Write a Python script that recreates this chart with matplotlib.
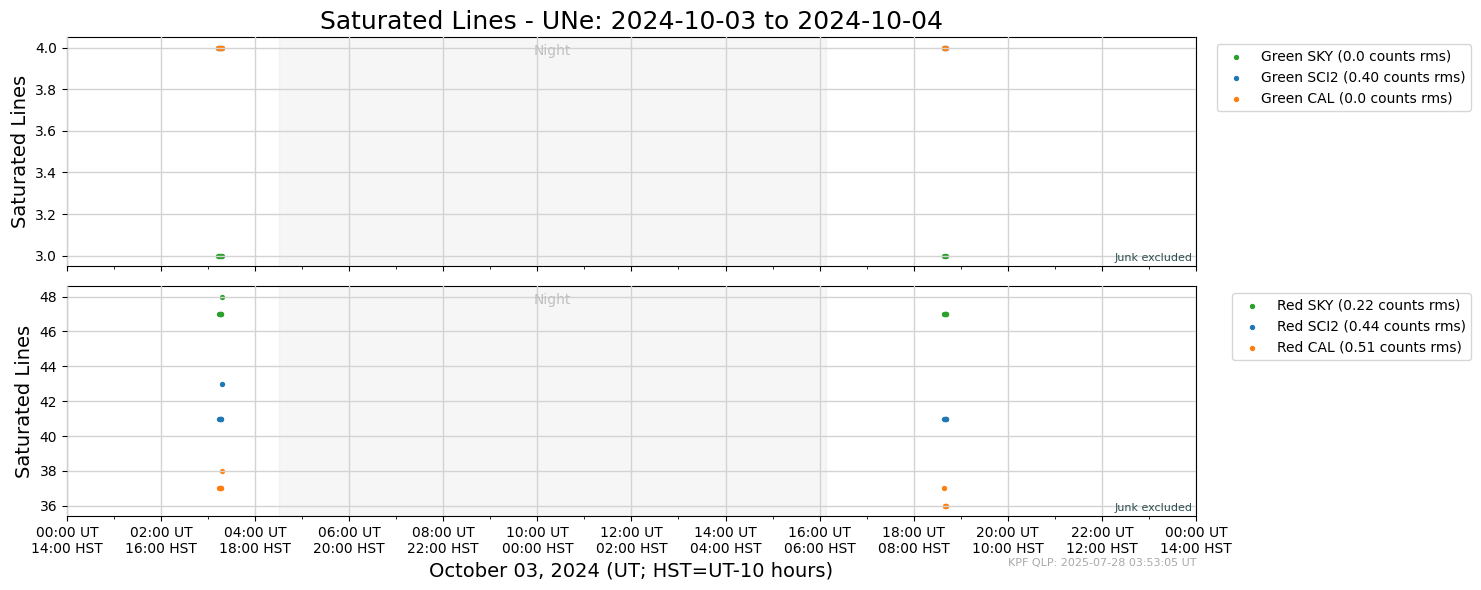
from datetime import datetime, timedelta

import matplotlib
matplotlib.use("Agg")
import matplotlib.dates as mdates
import matplotlib.pyplot as plt
from matplotlib.ticker import FuncFormatter


DAY = datetime(2024, 10, 3)

# observation times (hours UT)
GREEN_TIMES = [3.22, 3.24, 3.26, 3.28, 3.30, 18.65, 18.67, 18.69]
GREEN_SKY = [3, 3, 3, 3, 3, 3, 3, 3]
GREEN_SCI2 = [4, 4, 4, 4, 4, 4, 4, 4]
GREEN_CAL = [4, 4, 4, 4, 4, 4, 4, 4]

RED_TIMES = [3.24, 3.25, 3.26, 3.27, 3.28, 3.30, 18.65, 18.66, 18.67, 18.68, 18.69]
RED_SKY = [47, 47, 47, 47, 47, 48, 47, 47, 47, 47, 47]
RED_SCI2 = [41, 41, 41, 41, 41, 43, 41, 41, 41, 41, 41]
RED_CAL = [37, 37, 37, 37, 37, 38, 37, 36, 36, 36, 36]

GREEN_LABELS = ["Green SKY (0.0 counts rms)", "Green SCI2 (0.40 counts rms)",
                "Green CAL (0.0 counts rms)"]
RED_LABELS = ["Red SKY (0.22 counts rms)", "Red SCI2 (0.44 counts rms)",
              "Red CAL (0.51 counts rms)"]

NIGHT_START = 4.51
NIGHT_END = 16.13

COLORS = ["tab:green", "tab:blue", "tab:orange"]


def to_dt(hours):
    return [DAY + timedelta(hours=h) for h in hours]


def ut_hst(x, pos):
    d = mdates.num2date(x)
    hst = d - timedelta(hours=10)
    return d.strftime("%H:%M UT") + "\n" + hst.strftime("%H:%M HST")


def draw_panel(ax, times, series, labels):
    t = to_dt(times)
    ax.axvspan(DAY + timedelta(hours=NIGHT_START), DAY + timedelta(hours=NIGHT_END),
               color="lightgray", alpha=0.2, zorder=0)
    for vals, lab, col in zip(series, labels, COLORS):
        ax.scatter(t, vals, s=8, color=col, label=lab, zorder=1)
    ax.set_axisbelow(False)
    ax.grid(True, color="lightgray", linewidth=1)
    ax.set_ylabel("Saturated Lines", fontsize=14)
    mid = DAY + timedelta(hours=(NIGHT_START + NIGHT_END) / 2)
    ax.text(mid, 0.97, "Night", transform=ax.get_xaxis_transform(),
            ha="center", va="top", fontsize=10, color="silver")
    ax.text(0.997, 0.015, "Junk excluded", transform=ax.transAxes,
            ha="right", va="bottom", fontsize=8, color="darkslategrey")
    ax.legend(loc="upper right", bbox_to_anchor=(1.25, 1), fontsize=10, markerscale=1)


fig = plt.figure(figsize=(14.81, 5.9), dpi=100)
ax1 = fig.add_axes([0.0452, 0.549, 0.7623, 0.388])
ax2 = fig.add_axes([0.0452, 0.125, 0.7623, 0.390], sharex=ax1)

draw_panel(ax1, GREEN_TIMES, [GREEN_SKY, GREEN_SCI2, GREEN_CAL], GREEN_LABELS)
draw_panel(ax2, RED_TIMES, [RED_SKY, RED_SCI2, RED_CAL], RED_LABELS)

ax1.set_xlim(DAY, DAY + timedelta(days=1))
ax2.xaxis.set_major_locator(mdates.HourLocator(interval=2))
ax2.xaxis.set_minor_locator(mdates.HourLocator(interval=1))
ax2.xaxis.set_major_formatter(FuncFormatter(ut_hst))
plt.setp(ax1.get_xticklabels(), visible=False)

ax1.set_title("Saturated Lines - UNe: 2024-10-03 to 2024-10-04", fontsize=18)
ax2.set_xlabel("October 03, 2024 (UT; HST=UT-10 hours)", fontsize=14)

fig.text(0.8076, 0.037, "KPF QLP: 2025-07-28 03:53:05 UT", ha="right", va="bottom",
         fontsize=8, color="darkgray")

fig.savefig("out.png", dpi=100)
